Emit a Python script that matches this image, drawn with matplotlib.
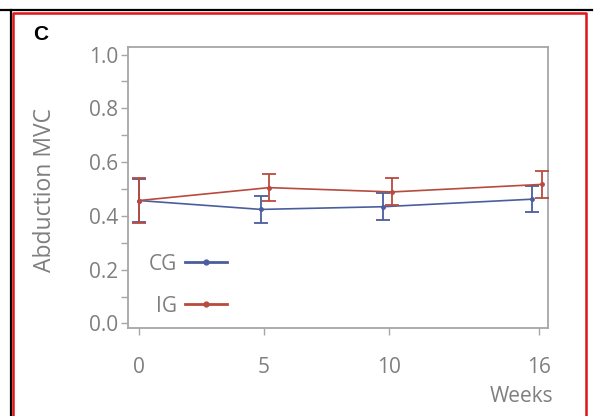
import matplotlib
matplotlib.use("Agg")
import matplotlib.pyplot as plt
from matplotlib.lines import Line2D
import numpy as np

weeks = [0, 5, 10, 16]
cg_mean = [0.457, 0.424, 0.434, 0.462]
cg_err = [0.08, 0.049, 0.050, 0.049]
ig_mean = [0.457, 0.505, 0.489, 0.517]
ig_err = [0.085, 0.050, 0.050, 0.050]
series_labels = ["CG", "IG"]
yticks = [0.0, 0.2, 0.4, 0.6, 0.8, 1.0]
ytick_labels = ["0.0", "0.2", "0.4", "0.6", "0.8", "1.0"]

cg_color = "#4a5e9e"
ig_color = "#b94a3e"
gray = "#7f7f7f"
font = "Open Sans"
fs = 15

fig = plt.figure(figsize=(5.95, 4.16), dpi=100)
ax = fig.add_axes([128/595, 1-328/416, (548-128)/595, (328-47)/416])

# dodge offsets (style)
cg_dx = np.array([0, -0.12, -0.25, -0.28])
ig_dx = np.array([0, 0.2, 0.12, 0.1])
w = np.array(weeks, dtype=float)

ax.errorbar(w + cg_dx, cg_mean, yerr=cg_err, color=cg_color, lw=1.2,
            marker="o", ms=2.5, capsize=5, capthick=1.3, elinewidth=1.3, zorder=3)
ax.errorbar(w + ig_dx, ig_mean, yerr=ig_err, color=ig_color, lw=1.2,
            marker="o", ms=2.5, capsize=5, capthick=1.3, elinewidth=1.3, zorder=4)

ax.set_xlim(-0.44, 16.36)
ax.set_ylim(-0.017, 1.028)
ax.set_xticks(weeks)
ax.set_xticklabels([str(x) for x in weeks], fontfamily=font, fontsize=fs, color=gray)
ax.set_yticks(yticks)
ax.set_yticklabels(ytick_labels, fontfamily=font, fontsize=fs, color=gray)
ax.set_yticks(np.arange(0.1, 1.0, 0.2), minor=True)
ax.tick_params(axis="both", which="both", direction="out", length=5, width=1, color="#a6a6a6", pad=2)
ax.tick_params(axis="x", pad=16)
for s in ax.spines.values():
    s.set_color("#a6a6a6")
    s.set_linewidth(1.3)

ax.set_ylabel("Abduction MVC", fontfamily=font, fontsize=16.5, color=gray)
ax.yaxis.set_label_coords(-0.17, 0.491)
fig.text(553/595, 1-396/416, "Weeks", ha="right", va="center", fontfamily=font, fontsize=fs, color=gray)

handles = [Line2D([], [], color=cg_color, lw=2, marker="o", ms=3.5),
           Line2D([], [], color=ig_color, lw=2, marker="o", ms=3.5)]
leg = ax.legend(handles, series_labels, loc="lower left", bbox_to_anchor=(0.004, -0.026),
                frameon=False, markerfirst=False, handlelength=2.0, labelspacing=1.0,
                handletextpad=0.4, prop={"family": font, "size": fs})
for t in leg.get_texts():
    t.set_color(gray)

fig.text(33/595, 1-34/416, "C", fontfamily="Liberation Sans", fontweight="bold", fontsize=15,
         ha="left", va="center", color="black")

# frame decorations
fig.add_artist(Line2D([0, 592/595], [1-10/416, 1-10/416], transform=fig.transFigure, color="black", lw=1.6))
fig.add_artist(Line2D([10.5/595, 10.5/595], [0, 1-10/416], transform=fig.transFigure, color="black", lw=1.6))
fig.add_artist(Line2D([13/595, 13/595, 586/595, 586/595], [0, 1-12.5/416, 1-12.5/416, 0],
                      transform=fig.transFigure, color="#e0141b", lw=1.8))

fig.savefig("out.png", dpi=100)
